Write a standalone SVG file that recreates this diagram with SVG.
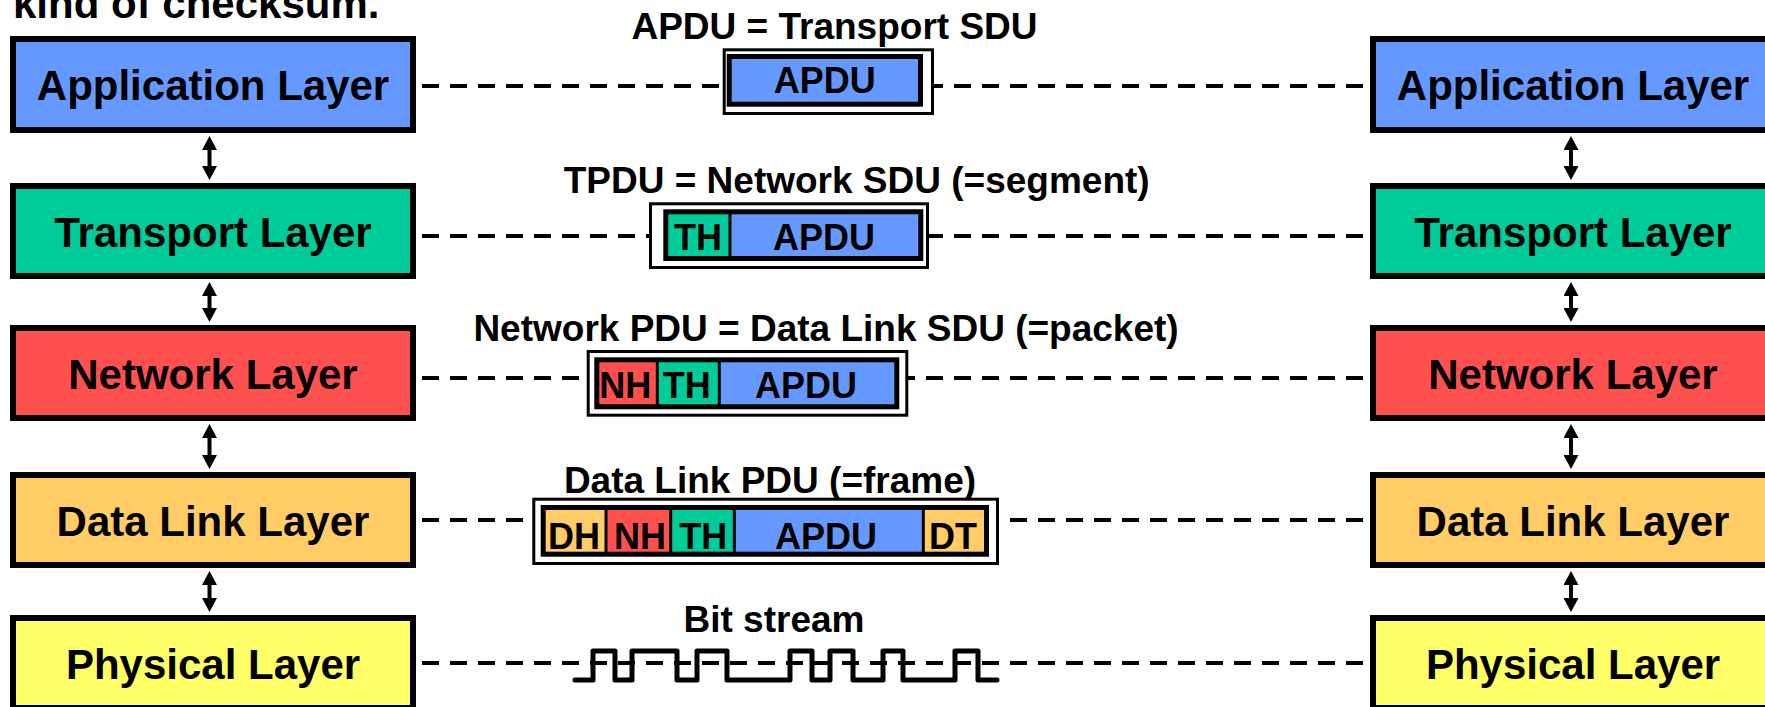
<svg xmlns="http://www.w3.org/2000/svg" width="1765" height="707" viewBox="0 0 1765 707">
<defs>
<style>
.t{font-family:"Liberation Sans",Arial,sans-serif;font-weight:bold;fill:#000}
.lay{font-size:42px;text-anchor:middle}
.lbl{font-size:37px;text-anchor:middle}
.cell{font-size:36px;text-anchor:middle}
.box{stroke:#000;stroke-width:6}
.outer{fill:#fff;stroke:#000;stroke-width:3}
.inner{fill:none;stroke:#000;stroke-width:5}
.div{stroke:#000;stroke-width:3}
.dash{stroke:#000;stroke-width:4;stroke-dasharray:17 11;fill:none}
.arr{stroke:#000;stroke-width:4;marker-start:url(#ah);marker-end:url(#ah)}
.app{fill:#6699FF}.tra{fill:#00CC99}.net{fill:#FF5050}.dl{fill:#FFCC66}.phy{fill:#FFFF66}
</style>
<marker id="ah" viewBox="0 0 14 15" refX="0" refY="7.5" markerWidth="14" markerHeight="15" markerUnits="userSpaceOnUse" orient="auto-start-reverse">
<path d="M0,0 L14,7.5 L0,15 Z" fill="#000"/>
</marker>
</defs>
<rect width="1765" height="707" fill="#fff"/>
<text class="t" x="13" y="18" font-size="42">kind of checksum.</text>

<g id="connectors">
<line class="dash" x1="422" y1="86" x2="1363" y2="86"/>
<line class="dash" x1="422" y1="236" x2="1363" y2="236"/>
<line class="dash" x1="422" y1="378" x2="1363" y2="378"/>
<line class="dash" x1="422" y1="520" x2="1363" y2="520"/>
<line class="dash" x1="422" y1="663" x2="1363" y2="663"/>
<line class="arr" x1="209.5" y1="150" x2="209.5" y2="166"/>
<line class="arr" x1="209.5" y1="296" x2="209.5" y2="308"/>
<line class="arr" x1="209.5" y1="438" x2="209.5" y2="455"/>
<line class="arr" x1="209.5" y1="585" x2="209.5" y2="598"/>
<line class="arr" x1="1571" y1="150" x2="1571" y2="166"/>
<line class="arr" x1="1571" y1="296" x2="1571" y2="308"/>
<line class="arr" x1="1571" y1="438" x2="1571" y2="455"/>
<line class="arr" x1="1571" y1="585" x2="1571" y2="598"/>
</g>

<g id="left-application"><rect class="box app" x="13" y="39" width="400" height="91"/><text class="t lay" x="213" y="100">Application Layer</text></g>
<g id="left-transport"><rect class="box tra" x="13" y="186" width="400" height="90"/><text class="t lay" x="213" y="246.5">Transport Layer</text></g>
<g id="left-network"><rect class="box net" x="13" y="328" width="400" height="90"/><text class="t lay" x="213" y="388.5">Network Layer</text></g>
<g id="left-datalink"><rect class="box dl" x="13" y="475" width="400" height="90"/><text class="t lay" x="213" y="535.5">Data Link Layer</text></g>
<g id="left-physical"><rect class="box phy" x="13" y="618" width="400" height="90"/><text class="t lay" x="213" y="678.5">Physical Layer</text></g>

<g id="right-application"><rect class="box app" x="1373" y="39" width="400" height="91"/><text class="t lay" x="1573" y="100">Application Layer</text></g>
<g id="right-transport"><rect class="box tra" x="1373" y="186" width="400" height="90"/><text class="t lay" x="1573" y="246.5">Transport Layer</text></g>
<g id="right-network"><rect class="box net" x="1373" y="328" width="400" height="90"/><text class="t lay" x="1573" y="388.5">Network Layer</text></g>
<g id="right-datalink"><rect class="box dl" x="1373" y="475" width="400" height="90"/><text class="t lay" x="1573" y="535.5">Data Link Layer</text></g>
<g id="right-physical"><rect class="box phy" x="1373" y="618" width="400" height="90"/><text class="t lay" x="1573" y="678.5">Physical Layer</text></g>

<g id="pdu-application">
<text class="t lbl" x="834.5" y="39.3">APDU = Transport SDU</text>
<rect class="outer" x="724.2" y="49.8" width="208.3" height="63.7"/>
<rect class="app" x="729.2" y="56.5" width="191.3" height="47.7"/>
<rect class="inner" x="729.2" y="56.5" width="191.3" height="47.7"/>
<text class="t cell" x="824.7" y="93">APDU</text>
</g>

<g id="pdu-transport">
<text class="t lbl" x="856.7" y="193.3">TPDU = Network SDU (=segment)</text>
<rect class="outer" x="650.5" y="203.8" width="277" height="63.7"/>
<rect class="tra" x="665.8" y="211.8" width="64.2" height="46.7"/>
<rect class="app" x="730" y="211.8" width="190.8" height="46.7"/>
<line class="div" x1="730" y1="211.8" x2="730" y2="258.5"/>
<rect class="inner" x="665.8" y="211.8" width="255" height="46.7"/>
<text class="t cell" x="698" y="250">TH</text>
<text class="t cell" x="824" y="250">APDU</text>
</g>

<g id="pdu-network">
<text class="t lbl" x="826" y="340.7">Network PDU = Data Link SDU (=packet)</text>
<rect class="outer" x="588.2" y="351.5" width="318.6" height="63.7"/>
<rect class="net" x="596.8" y="359.8" width="60.5" height="47"/>
<rect class="tra" x="657.3" y="359.8" width="62" height="47"/>
<rect class="app" x="719.3" y="359.8" width="177.5" height="47"/>
<line class="div" x1="657.3" y1="359.8" x2="657.3" y2="406.8"/>
<line class="div" x1="719.3" y1="359.8" x2="719.3" y2="406.8"/>
<rect class="inner" x="596.8" y="359.8" width="300" height="47"/>
<text class="t cell" x="625.3" y="398">NH</text>
<text class="t cell" x="686.7" y="398">TH</text>
<text class="t cell" x="806" y="398">APDU</text>
</g>

<g id="pdu-datalink">
<text class="t lbl" x="770" y="492.7">Data Link PDU (=frame)</text>
<rect class="outer" x="533.8" y="499.2" width="463.7" height="64.3"/>
<rect class="dl" x="543.2" y="507.5" width="62.8" height="46.7"/>
<rect class="net" x="606" y="507.5" width="64.7" height="46.7"/>
<rect class="tra" x="670.7" y="507.5" width="63.6" height="46.7"/>
<rect class="app" x="734.3" y="507.5" width="189" height="46.7"/>
<rect class="dl" x="923.3" y="507.5" width="63.2" height="46.7"/>
<line class="div" x1="606" y1="507.5" x2="606" y2="554.2"/>
<line class="div" x1="670.7" y1="507.5" x2="670.7" y2="554.2"/>
<line class="div" x1="734.3" y1="507.5" x2="734.3" y2="554.2"/>
<line class="div" x1="923.3" y1="507.5" x2="923.3" y2="554.2"/>
<rect class="inner" x="543.2" y="507.5" width="443.3" height="46.7"/>
<text class="t cell" x="574" y="549">DH</text>
<text class="t cell" x="640" y="549">NH</text>
<text class="t cell" x="703.3" y="549">TH</text>
<text class="t cell" x="826" y="549">APDU</text>
<text class="t cell" x="953" y="549">DT</text>
</g>

<g id="bitstream">
<text class="t lbl" x="774" y="631.7">Bit stream</text>
<path d="M575,680 H593 V651 H615 V680 H632 V651 H677 V680 H697 V651 H727 V680 H790 V651 H812 V680 H830 V651 H853 V680 H883 V651 H903 V680 H955 V651 H978 V680 H997" fill="none" stroke="#000" stroke-width="5" stroke-linejoin="round" stroke-linecap="round"/>
</g>
</svg>
